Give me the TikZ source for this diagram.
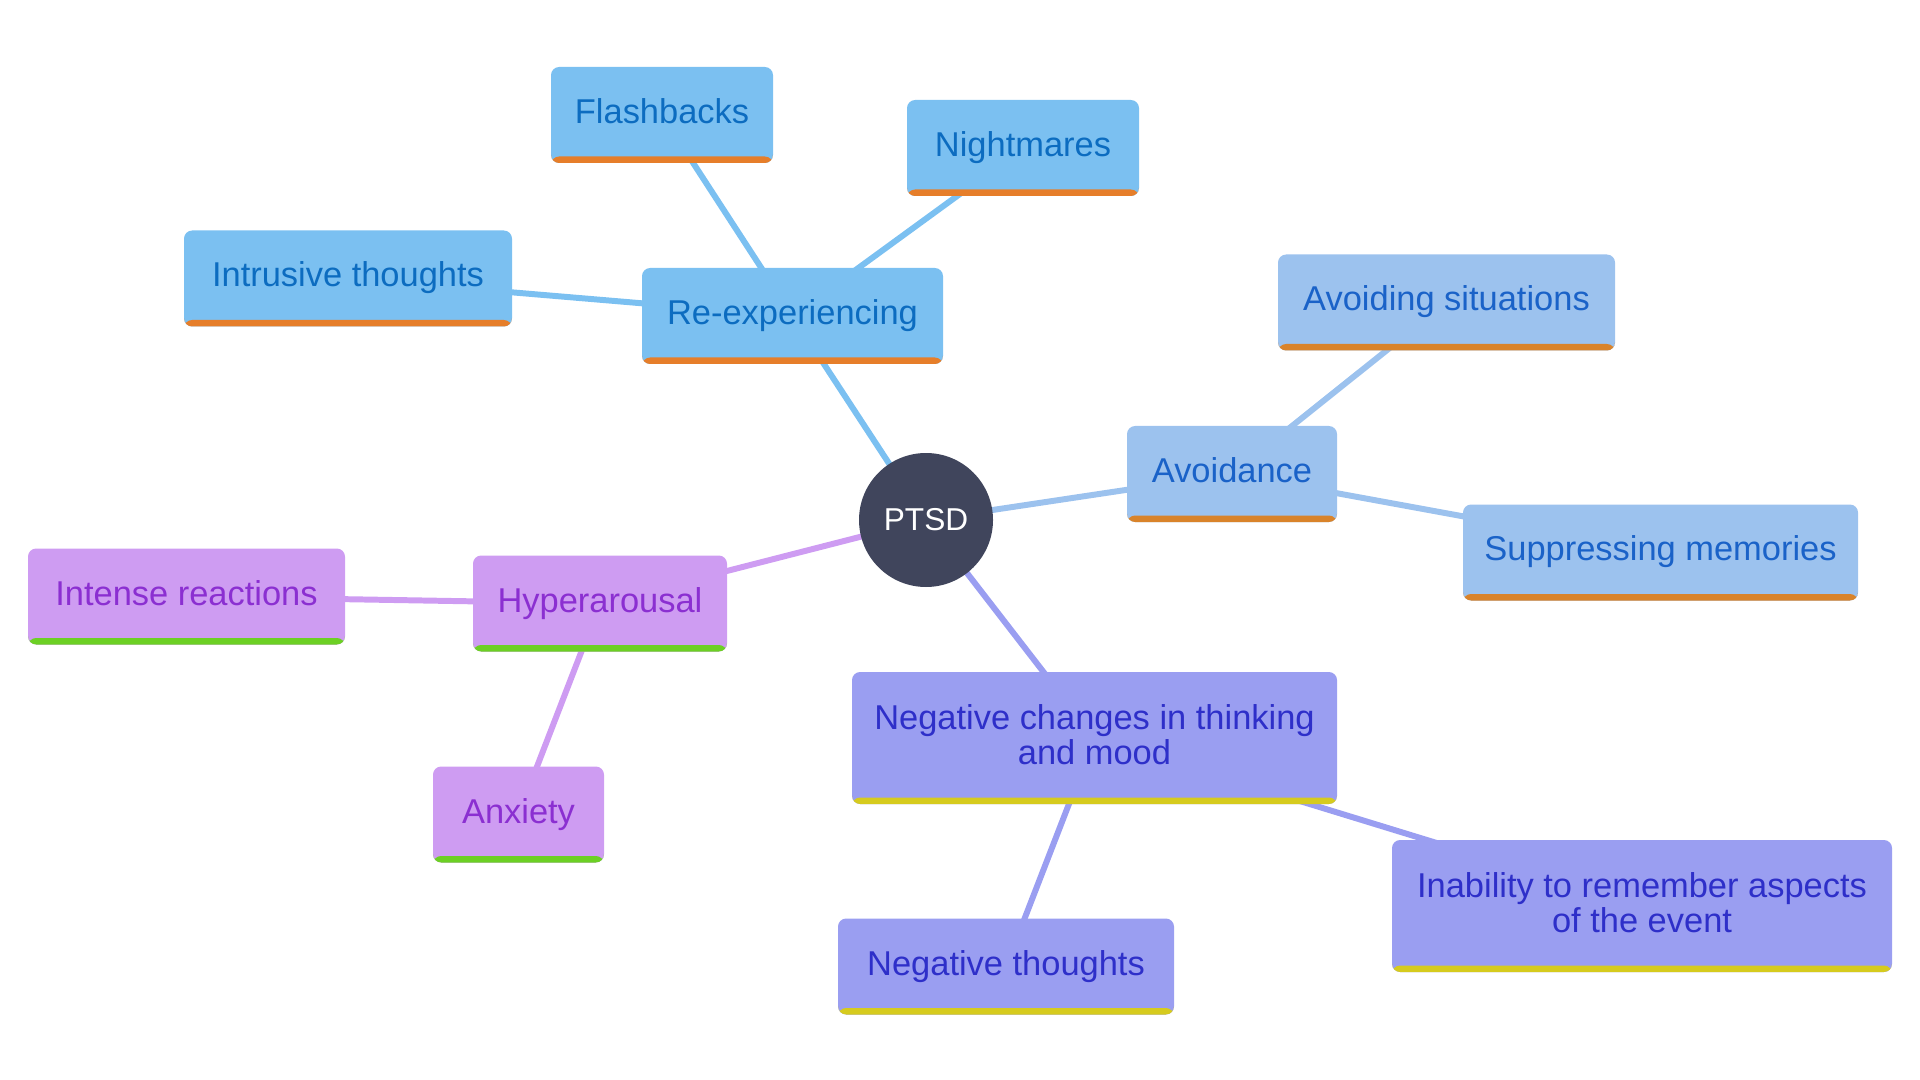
\documentclass[tikz,border=0pt]{standalone}
\usepackage{fontspec}
\setmainfont{Liberation Sans}
\usetikzlibrary{backgrounds}

\definecolor{refill}{HTML}{7BC0F1}
\definecolor{retext}{HTML}{0C6CC0}
\definecolor{rebar}{HTML}{E67E2A}
\definecolor{avfill}{HTML}{9CC2EE}
\definecolor{avtext}{HTML}{1A62C8}
\definecolor{avbar}{HTML}{D9832A}
\definecolor{hyfill}{HTML}{CE9CF2}
\definecolor{hytext}{HTML}{8B2FD1}
\definecolor{hybar}{HTML}{6CD024}
\definecolor{ngfill}{HTML}{9A9EF1}
\definecolor{ngtext}{HTML}{2E2FC9}
\definecolor{ngbar}{HTML}{D6CB1E}
\definecolor{hub}{HTML}{40455C}

\tikzset{
  box/.style={rounded corners=2.3pt, inner sep=0pt, align=center,
    minimum height=0.96cm, font=\fontsize{9.8}{10.1}\selectfont,
    text height=0.26cm, text depth=0.09cm,
    path picture={\fill[#1] (path picture bounding box.south west)
      rectangle ([yshift=0.065cm]path picture bounding box.south east);}},
  twoline/.style={minimum height=1.32cm, text height={}, text depth=0.07cm},
  rebox/.style={box=rebar, fill=refill, text=retext},
  avbox/.style={box=avbar, fill=avfill, text=avtext},
  hybox/.style={box=hybar, fill=hyfill, text=hytext},
  ngbox/.style={box=ngbar, fill=ngfill, text=ngtext},
  reline/.style={line width=1.7pt, draw=refill},
  avline/.style={line width=1.7pt, draw=avfill},
  hyline/.style={line width=1.7pt, draw=hyfill},
  ngline/.style={line width=1.7pt, draw=ngfill}
}

\begin{document}
\begin{tikzpicture}
    \useasboundingbox (0,0) rectangle (19.2,-10.8);

    % 中心节点
    \node[circle, fill=hub, text=white, minimum size=1.34cm, inner sep=0pt,
      font=\fontsize{9}{10}\selectfont] (ptsd) at (9.26,-5.20) {PTSD};

    % 再体验
    \node[rebox, minimum width=3.01cm] (reexp) at (7.925,-3.16) {Re-experiencing};
    \node[rebox, minimum width=2.22cm] (flash) at (6.62,-1.15) {Flashbacks};
    \node[rebox, minimum width=2.32cm] (night) at (10.23,-1.48) {Nightmares};
    \node[rebox, minimum width=3.28cm] (intru) at (3.48,-2.785) {Intrusive thoughts};

    % 回避
    \node[avbox, minimum width=2.10cm] (avoid) at (12.32,-4.74) {Avoidance};
    \node[avbox, minimum width=3.37cm] (avsit) at (14.465,-3.025) {Avoiding situations};
    \node[avbox, minimum width=3.95cm] (supp) at (16.605,-5.525) {Suppressing memories};

    % 过度警觉
    \node[hybox, minimum width=2.54cm] (hyper) at (6.00,-6.035) {Hyperarousal};
    \node[hybox, minimum width=3.17cm] (intense) at (1.865,-5.965) {Intense reactions};
    \node[hybox, minimum width=1.71cm] (anx) at (5.185,-8.145) {Anxiety};

    % 负面变化
    \node[ngbox, twoline, minimum width=4.85cm] (negch) at (10.945,-7.38)
      {Negative changes in thinking\\and mood};
    \node[ngbox, minimum width=3.36cm] (negth) at (10.06,-9.665) {Negative thoughts};
    \node[ngbox, twoline, minimum width=5.00cm] (unable) at (16.42,-9.06)
      {Inability to remember aspects\\of the event};

    % 连线
    \begin{scope}[on background layer]
      \draw[reline] (ptsd.center) -- (reexp.center);
      \draw[reline] (reexp.center) -- (flash.center);
      \draw[reline] (reexp.center) -- (night.center);
      \draw[reline] (reexp.center) -- (intru.center);
      \draw[avline] (ptsd.center) -- (avoid.center);
      \draw[avline] (avoid.center) -- (avsit.center);
      \draw[avline] (avoid.center) -- (supp.center);
      \draw[hyline] (ptsd.center) -- (hyper.center);
      \draw[hyline] (hyper.center) -- (intense.center);
      \draw[hyline] (hyper.center) -- (anx.center);
      \draw[ngline] (ptsd.center) -- (negch.center);
      \draw[ngline] (negch.center) -- (negth.center);
      \draw[ngline] (negch.center) -- (unable.center);
    \end{scope}
\end{tikzpicture}
\end{document}
